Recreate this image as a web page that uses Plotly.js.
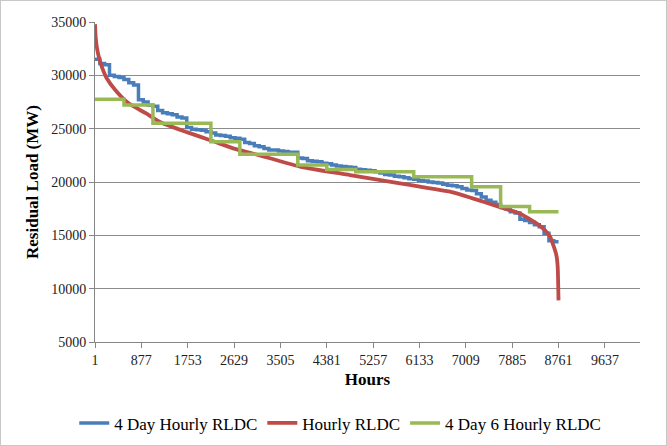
<!DOCTYPE html>
<html>
<head>
<meta charset="utf-8">
<script src="https://cdn.plot.ly/plotly-3.0.1.min.js"></script>
<style>
  html, body { margin: 0; padding: 0; background: #fff; }
  #frame { width: 665px; height: 444px; border: 1px solid #c8c8c8; }
  #chart { width: 665px; height: 444px; }
</style>
</head>
<body>
<div id="frame"><div id="chart"></div></div>
<script>
// ---- Data ----
const xTickLabels = ["1","877","1753","2629","3505","4381","5257","6133","7009","7885","8761","9637"];

// Hourly RLDC (smooth curve): hours and residual load (MW)
const hourlyHours = [1, 15, 40, 80, 130, 220, 380, 630, 960, 1260, 1750, 2220, 2650, 3000, 3875, 4820, 5765, 6140, 6710, 7340, 7780, 8030, 8220, 8350, 8500, 8600, 8660, 8700, 8725, 8745, 8755, 8760];
const hourlyLoad  = [34800, 33500, 32500, 31600, 30800, 29750, 28650, 27400, 26450, 25550, 24650, 23850, 23100, 22650, 21450, 20650, 19870, 19560, 19090, 18150, 17450, 17050, 16500, 16100, 15500, 14900, 14100, 13500, 13000, 12000, 10200, 8900];

// 4 Day Hourly RLDC: 96 sorted hourly values, each representing 91.25 hours
const fourDayHourlyLoad = [
  31500, 31100, 31000, 30000, 29900, 29800, 29600, 29300, 29100, 27700,
  27500, 27200, 27100, 26700, 26500, 26400, 26300, 26100, 26000, 25100,
  24950, 24900, 24850, 24700, 24600, 24400, 24350, 24300, 24150, 24100,
  24000, 23700, 23600, 23400, 23300, 23150, 23000, 23000, 22900, 22850,
  22800, 22800, 22250, 22200, 22000, 21950, 21900, 21750, 21700, 21600,
  21500, 21450, 21400, 21350, 21200, 21150, 21100, 21050, 20950, 20850,
  20700, 20650, 20550, 20500, 20400, 20300, 20250, 20150, 20100, 20000,
  19950, 19900, 19800, 19700, 19650, 19550, 19400, 19250, 19200, 18900,
  18600, 18300, 18100, 17900, 17600, 17500, 17200, 17100, 16500, 16400,
  16200, 16000, 15800, 15200, 14500, 14400
];

// 4 Day 6 Hourly RLDC: 16 sorted six-hour block values, each representing 547.5 hours
const fourDaySixHourlyLoad = [27750, 27210, 25500, 25500, 23770, 22600, 22600, 21590, 21180, 20960, 20960, 20490, 20490, 19560, 17700, 17210];

const totalHours = 8760;

// ---- Build step traces (block start hours + final end point) ----
function stepSeries(values) {
  const w = totalHours / values.length;
  const xs = values.map((_, i) => 1 + i * w);
  const ys = values.slice();
  xs.push(totalHours);
  ys.push(values[values.length - 1]);
  return {xs, ys};
}
const blue = stepSeries(fourDayHourlyLoad);
const green = stepSeries(fourDaySixHourlyLoad);

const serif = "Liberation Serif";

const traces = [
  {
    name: "4 Day Hourly RLDC", x: blue.xs, y: blue.ys, type: "scatter", mode: "lines",
    line: {color: "#4a7ebb", width: 3.5, shape: "hv"}
  },
  {
    name: "Hourly RLDC", x: hourlyHours, y: hourlyLoad, type: "scatter", mode: "lines",
    line: {color: "#be4b48", width: 3.8, shape: "spline", smoothing: 0.6}
  },
  {
    name: "4 Day 6 Hourly RLDC", x: green.xs, y: green.ys, type: "scatter", mode: "lines",
    line: {color: "#98b954", width: 3.5, shape: "hv"}
  }
];

const tickVals = xTickLabels.map(Number);

const layout = {
  width: 665, height: 444,
  margin: {l: 94, r: 26, t: 21, b: 103, pad: 0, autoexpand: false},
  paper_bgcolor: "#ffffff", plot_bgcolor: "#ffffff",
  font: {family: serif, color: "#000"},
  showlegend: true,
  legend: {
    orientation: "h", x: 0.45, xanchor: "center", y: -0.198, yanchor: "top",
    font: {family: serif, size: 17, color: "#000"},
    itemwidth: 30, tracegroupgap: 0
  },
  xaxis: {
    range: [1, 10300], tickmode: "array", tickvals: tickVals, ticktext: xTickLabels,
    showgrid: false, zeroline: false, automargin: false,
    showline: true, linecolor: "#868686", linewidth: 1,
    ticks: "outside", ticklen: 5, tickcolor: "#868686",
    tickfont: {family: serif, size: 14, color: "#222"},
    title: {text: "<b>Hours</b>", font: {family: serif, size: 17, color: "#000"}, standoff: 6}
  },
  yaxis: {
    range: [5000, 35000], tick0: 5000, dtick: 5000, tickformat: "d",
    showgrid: true, gridcolor: "#8c8c8c", gridwidth: 1, zeroline: false, automargin: false,
    showline: true, linecolor: "#868686", linewidth: 1,
    ticks: "outside", ticklen: 5, tickcolor: "#868686",
    tickfont: {family: serif, size: 14, color: "#222"},
    title: {text: "<b>Residual Load (MW)</b>", font: {family: serif, size: 17, color: "#000"}, standoff: 8}
  }
};

Plotly.newPlot("chart", traces, layout, {displayModeBar: false, staticPlot: true});
</script>
</body>
</html>
